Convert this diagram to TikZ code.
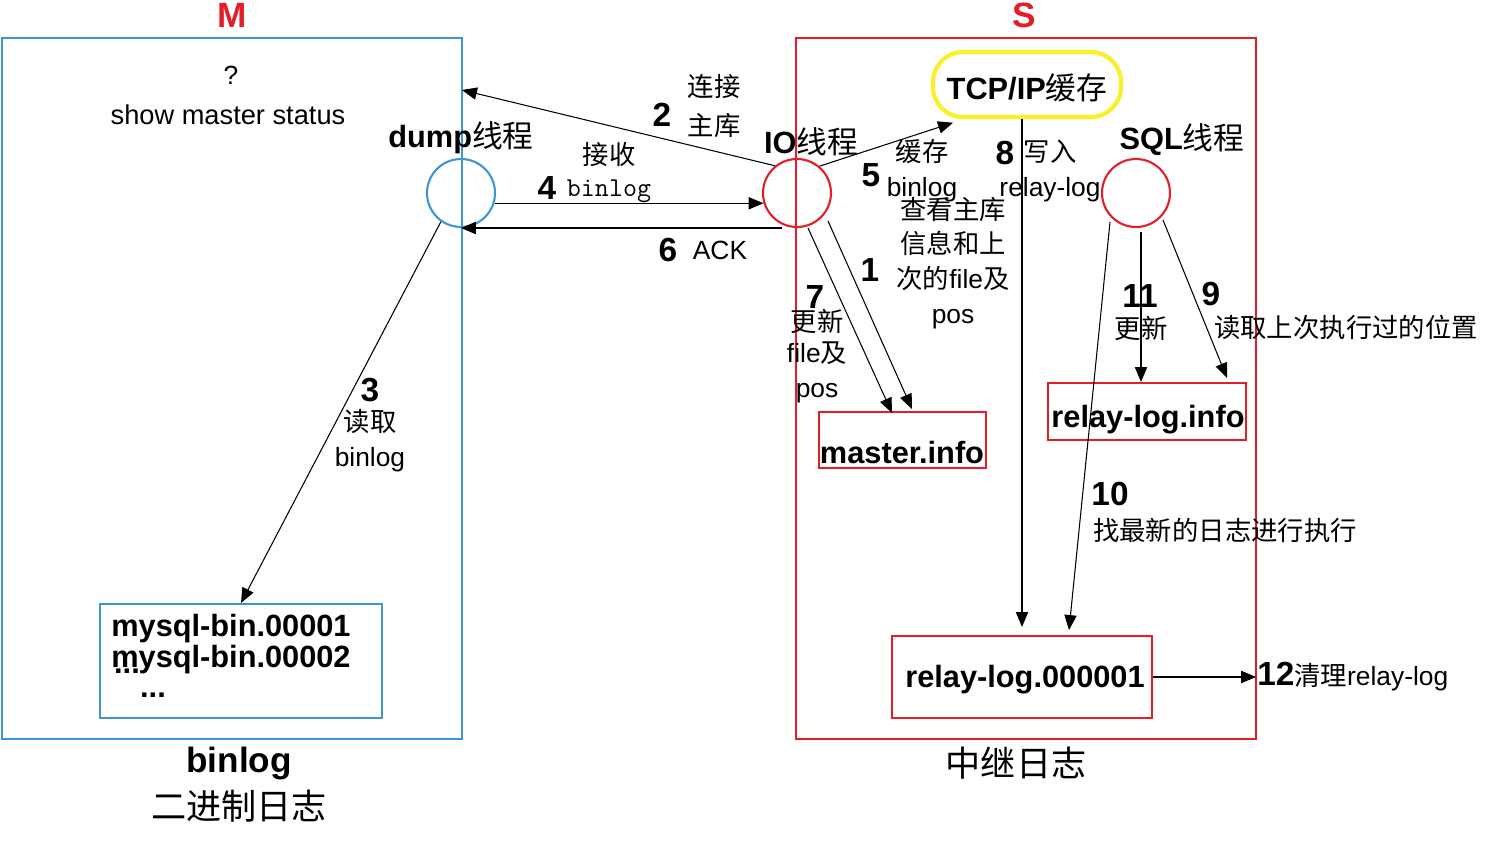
\documentclass[tikz,border=0pt]{standalone}
\usepackage{fontspec}
\setmainfont{Liberation Sans}
\newfontfamily\cjk{Noto Sans CJK SC}
\newcommand{\zh}[1]{{\cjk #1}}
\usetikzlibrary{arrows.meta}
\definecolor{mblue}{RGB}{62,150,210}
\definecolor{sred}{RGB}{228,30,40}
\definecolor{tcpyel}{RGB}{250,240,40}
\tikzset{
  arr/.style={line width=0.6pt,-{Triangle[length=8.5pt,width=7pt]}},
  txt/.style={inner sep=0pt,font=\fontsize{15}{19.8}\selectfont,align=center},
  numlbl/.style={inner sep=0pt,font=\bfseries\fontsize{19}{22}\selectfont},
  boxtxt/.style={inner sep=0pt,font=\bfseries\fontsize{17.5}{21}\selectfont},
  captxt/.style={inner sep=0pt,font=\fontsize{20}{24}\selectfont},
  thread/.style={circle,draw,line width=1.2pt,minimum size=1.36cm,inner sep=0pt},
  filebox/.style={draw,line width=1.2pt,inner sep=0pt},
}
\begin{document}
\begin{tikzpicture}[x=0.02cm,y=-0.02cm]
            \useasboundingbox (0,0) rectangle (1491,846);

            % M side
            \draw[mblue,line width=1.2pt] (2,38) rectangle (462,739);
            \node[boxtxt,sred,font=\bfseries\fontsize{20}{24}\selectfont] (mlbl) at (232,15) {M};
            \node[txt,font=\fontsize{15}{18}\rmfamily] (qm) at (231,75) {?};
            \node[txt,font=\fontsize{15.5}{18}\selectfont] (status) at (228,115) {show master status};
            \node[thread,mblue] (dump) at (461,193) {};
            \node[boxtxt] (dumplbl) at (461,138) {dump\zh{\mdseries 线程}};
            \node[filebox,mblue,minimum width=5.64cm,minimum height=2.28cm] (bin) at (241,661) {};
            \node[boxtxt,anchor=west] (bin1) at (111,629) {mysql-bin.00001};
            \node[boxtxt,anchor=west] (bin2) at (111,660) {mysql-bin.00002};
            \node[boxtxt] (dots0) at (127,671) {...};
            \node[boxtxt] (dots1) at (153,695) {...};
            \node[captxt,font=\bfseries\fontsize{20}{24}\selectfont] (binlbl) at (239,763) {binlog};
            \node[captxt] (binzh) at (239,806) {\zh{二进制日志}};

            % S side
            \draw[sred,line width=1.2pt] (796,38) rectangle (1256,739);
            \node[boxtxt,sred,font=\bfseries\fontsize{20}{24}\selectfont] (slbl) at (1024,15) {S};
            \node[thread,sred] (io) at (797,193) {};
            \node[boxtxt] (iolbl) at (811,142) {IO\zh{\mdseries 线程}};
            \node[thread,sred] (sql) at (1136,193) {};
            \node[boxtxt] (sqllbl) at (1182,140) {SQL\zh{\mdseries 线程}};
            \node[draw=tcpyel,line width=2.4pt,rounded corners=0.6cm,minimum width=3.76cm,minimum height=1.3cm] (tcp) at (1027,84.5) {};
            \node[boxtxt] (tcplbl) at (1027,88) {TCP/IP\zh{\mdseries 缓存}};
            \node[filebox,sred,minimum width=3.34cm,minimum height=1.12cm] (minfo) at (902.5,440) {};
            \node[boxtxt] (minfolbl) at (902,452) {master.info};
            \node[filebox,sred,minimum width=3.96cm,minimum height=1.14cm] (rinfo) at (1147,411.5) {};
            \node[boxtxt] (rinfolbl) at (1148,420) {relay-log.info};
            \node[filebox,sred,minimum width=5.2cm,minimum height=1.64cm] (rlog) at (1022,677) {};
            \node[boxtxt] (rloglbl) at (1025,680) {relay-log.000001};
            \node[captxt] (rlogzh) at (1016,763) {\zh{中继日志}};

            % free ends
            \coordinate (e2) at (462,90);
            \coordinate (e5) at (953,122.7);
            \coordinate (s6) at (782,228);
            \coordinate (s7) at (808,228);
            \coordinate (e7) at (892,413);
            \coordinate (s1) at (828,221);
            \coordinate (e1) at (912,409);
            \coordinate (s11) at (1141,232);
            \coordinate (s9) at (1163,220);
            \coordinate (e9) at (1227,378);
            \coordinate (s10) at (1110,222);
            \coordinate (e10) at (1069,630);
            \coordinate (e12) at (1256,677);

            % connectors
            \draw[arr] (io.129) -- (e2);
            \draw[arr] (io.50) -- (e5);
            \draw[arr] (dump.-17) -- (io.197);
            \draw[arr] (s6) -- (s6 -| dump);
            \draw[arr] (dump.-125) -- (bin.north);
            \draw[arr] (s7) -- (e7);
            \draw[arr] (s1) -- (e1);
            \draw[arr,shorten >=0.16cm] (tcp.south -| rlog.north) -- (rlog.north);
            \draw[arr] (s11) -- (s11 |- rinfo.north);
            \draw[arr] (s9) -- (e9);
            \draw[arr] (s10) -- (e10);
            \draw[arr] (rlog.east) -- (e12);

            % step labels
            \node[numlbl] (n2) at (662,115) {2};
            \node[txt] (t2) at (714,106) {\zh{连接}\\[2pt]\zh{主库}};
            \node[numlbl] (n4) at (547,188) {4};
            \node[txt] (t4a) at (609,155) {\zh{接收}};
            \node[txt,font=\fontsize{15.5}{18}\ttfamily] (t4b) at (609,191) {binlog};
            \node[numlbl] (n6) at (668,250) {6};
            \node[txt] (t6) at (720,250) {ACK};
            \node[numlbl] (n5) at (871,175) {5};
            \node[txt] (t5) at (922,171) {\zh{缓存}\\binlog};
            \node[numlbl] (n3) at (370,390) {3};
            \node[txt] (t3) at (370,441) {\zh{读取}\\binlog};
            \node[numlbl] (n7) at (815,297) {7};
            \node[txt] (t7) at (817,356) {\zh{更新}\\[-2pt]file\zh{及}\\pos};
            \node[numlbl] (n1) at (870,270) {1};
            \node[txt] (t1) at (953,263) {\zh{查看主库}\\\zh{信息和上}\\\zh{次的}file\zh{及}\\pos};
            \node[numlbl] (n8) at (1005,153) {8};
            \node[txt] (t8) at (1050,171) {\zh{写入}\\relay-log};
            \node[numlbl] (n11) at (1140,296) {11};
            \node[txt] (t11) at (1141,328) {\zh{更新}};
            \node[numlbl] (n9) at (1211,294) {9};
            \node[txt] (t9) at (1346,327) {\zh{读取上次执行过的位置}};
            \node[numlbl] (n10) at (1110,494) {10};
            \node[txt] (t10) at (1225,530) {\zh{找最新的日志进行执行}};
            \node[txt,anchor=west] (t12) at (1257,677) {\textbf{\fontsize{19}{22}\selectfont 12}\zh{清理}relay-log};
        \end{tikzpicture}
\end{document}
